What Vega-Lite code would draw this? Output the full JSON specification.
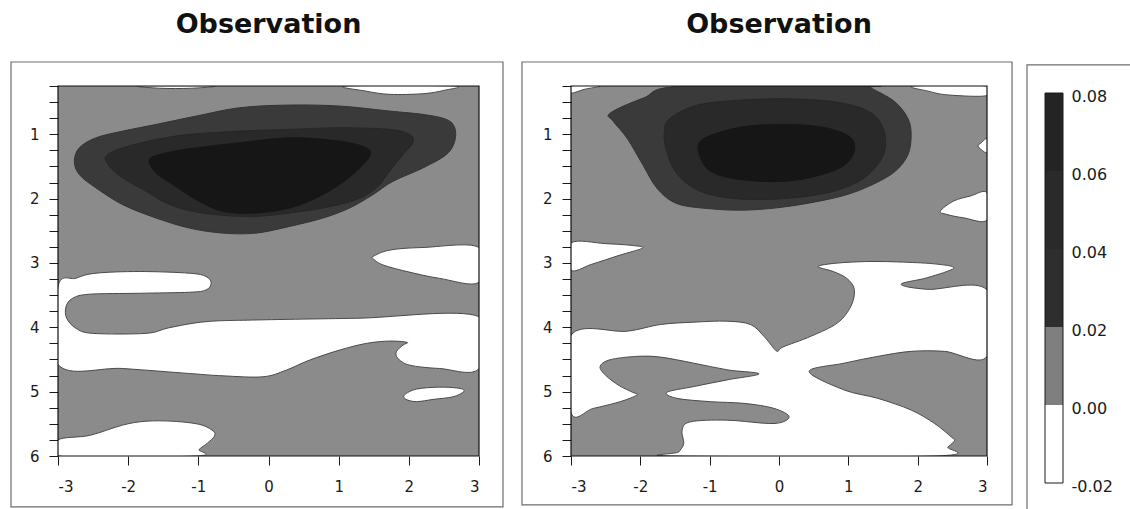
{
  "$schema": "https://vega.github.io/schema/vega-lite/v6.json",
  "background": "white",
  "padding": {"left": 10, "top": 11, "right": 0, "bottom": 0},
  "config": {
    "font": "DejaVu Sans",
    "view": {"stroke": null},
    "axis": {"labelFont": "DejaVu Sans", "labelFontSize": 15, "labelColor": "#1a1a1a", "tickColor": "#1a1a1a", "domainColor": "#1a1a1a", "grid": false, "labelOverlap": false},
    "title": {"font": "DejaVu Sans", "fontSize": 27, "fontWeight": "bold", "color": "#111111", "baseline": "alphabetic", "offset": 22, "frame": "group", "anchor": "middle"}
  },
  "datasets": {
    "p1": [
      {"s":"w1","l":"neg","x":-1.84,"y":0.25},{"s":"w1","l":"neg","x":-1.55,"y":0.285},{"s":"w1","l":"neg","x":-1.10,"y":0.285},{"s":"w1","l":"neg","x":-0.79,"y":0.25},
      {"s":"w2","l":"neg","x":1.11,"y":0.25},{"s":"w2","l":"neg","x":1.39,"y":0.33},{"s":"w2","l":"neg","x":1.73,"y":0.38},{"s":"w2","l":"neg","x":2.20,"y":0.37},{"s":"w2","l":"neg","x":2.49,"y":0.32},{"s":"w2","l":"neg","x":2.63,"y":0.25},
      {"s":"w3","l":"neg","x":1.49,"y":2.90},{"s":"w3","l":"neg","x":1.73,"y":2.80},{"s":"w3","l":"neg","x":2.20,"y":2.76},{"s":"w3","l":"neg","x":3,"y":2.76},{"s":"w3","l":"neg","x":3,"y":3.30},{"s":"w3","l":"neg","x":2.44,"y":3.24},{"s":"w3","l":"neg","x":1.96,"y":3.13},{"s":"w3","l":"neg","x":1.63,"y":3.03},{"s":"w3","l":"neg","x":1.51,"y":2.95},
      {"s":"w4","l":"neg","x":-3,"y":3.367},{"s":"w4","l":"neg","x":-2.743,"y":3.237},{"s":"w4","l":"neg","x":-2.458,"y":3.159},{"s":"w4","l":"neg","x":-1.84,"y":3.133},{"s":"w4","l":"neg","x":-1.127,"y":3.159},{"s":"w4","l":"neg","x":-0.889,"y":3.211},{"s":"w4","l":"neg","x":-0.817,"y":3.315},{"s":"w4","l":"neg","x":-0.889,"y":3.419},{"s":"w4","l":"neg","x":-1.127,"y":3.455},{"s":"w4","l":"neg","x":-1.84,"y":3.471},{"s":"w4","l":"neg","x":-2.553,"y":3.486},{"s":"w4","l":"neg","x":-2.791,"y":3.549},{"s":"w4","l":"neg","x":-2.886,"y":3.679},{"s":"w4","l":"neg","x":-2.876,"y":3.86},{"s":"w4","l":"neg","x":-2.743,"y":4.016},{"s":"w4","l":"neg","x":-2.505,"y":4.094},{"s":"w4","l":"neg","x":-1.745,"y":4.094},{"s":"w4","l":"neg","x":-1.412,"y":4.006},{"s":"w4","l":"neg","x":-0.889,"y":3.912},{"s":"w4","l":"neg","x":-0.175,"y":3.886},{"s":"w4","l":"neg","x":1.251,"y":3.86},{"s":"w4","l":"neg","x":3,"y":3.834},{"s":"w4","l":"neg","x":3,"y":4.64},{"s":"w4","l":"neg","x":2.44,"y":4.64},{"s":"w4","l":"neg","x":2.012,"y":4.588},{"s":"w4","l":"neg","x":1.846,"y":4.484},{"s":"w4","l":"neg","x":1.822,"y":4.38},{"s":"w4","l":"neg","x":1.917,"y":4.276},{"s":"w4","l":"neg","x":1.974,"y":4.234},{"s":"w4","l":"neg","x":1.727,"y":4.214},{"s":"w4","l":"neg","x":1.394,"y":4.25},{"s":"w4","l":"neg","x":1.013,"y":4.354},{"s":"w4","l":"neg","x":0.585,"y":4.51},{"s":"w4","l":"neg","x":0.252,"y":4.666},{"s":"w4","l":"neg","x":-0.08,"y":4.769},{"s":"w4","l":"neg","x":-0.651,"y":4.754},{"s":"w4","l":"neg","x":-1.127,"y":4.718},{"s":"w4","l":"neg","x":-2.077,"y":4.64},{"s":"w4","l":"neg","x":-3,"y":4.577},
      {"s":"w5","l":"neg","x":1.94,"y":5.05},{"s":"w5","l":"neg","x":2.11,"y":4.96},{"s":"w5","l":"neg","x":2.44,"y":4.93},{"s":"w5","l":"neg","x":2.73,"y":4.95},{"s":"w5","l":"neg","x":2.78,"y":5.0},{"s":"w5","l":"neg","x":2.63,"y":5.08},{"s":"w5","l":"neg","x":2.35,"y":5.12},{"s":"w5","l":"neg","x":2.11,"y":5.155},{"s":"w5","l":"neg","x":1.96,"y":5.12},
      {"s":"w6","l":"neg","x":-3,"y":5.75},{"s":"w6","l":"neg","x":-2.55,"y":5.68},{"s":"w6","l":"neg","x":-2.08,"y":5.52},{"s":"w6","l":"neg","x":-1.75,"y":5.46},{"s":"w6","l":"neg","x":-1.36,"y":5.46},{"s":"w6","l":"neg","x":-0.98,"y":5.51},{"s":"w6","l":"neg","x":-0.79,"y":5.61},{"s":"w6","l":"neg","x":-0.77,"y":5.69},{"s":"w6","l":"neg","x":-0.87,"y":5.8},{"s":"w6","l":"neg","x":-0.99,"y":5.9},{"s":"w6","l":"neg","x":-1.04,"y":6.0},{"s":"w6","l":"neg","x":-3,"y":6.0},
      {"s":"d1","l":"l1","x":-2.767,"y":1.419},{"s":"d1","l":"l1","x":-2.696,"y":1.211},{"s":"d1","l":"l1","x":-2.458,"y":1.055},{"s":"d1","l":"l1","x":-2.077,"y":0.951},{"s":"d1","l":"l1","x":-1.602,"y":0.847},{"s":"d1","l":"l1","x":-1.031,"y":0.718},{"s":"d1","l":"l1","x":-0.413,"y":0.588},{"s":"d1","l":"l1","x":0.3,"y":0.546},{"s":"d1","l":"l1","x":1.013,"y":0.562},{"s":"d1","l":"l1","x":1.727,"y":0.64},{"s":"d1","l":"l1","x":2.202,"y":0.692},{"s":"d1","l":"l1","x":2.535,"y":0.769},{"s":"d1","l":"l1","x":2.654,"y":0.899},{"s":"d1","l":"l1","x":2.654,"y":1.107},{"s":"d1","l":"l1","x":2.535,"y":1.315},{"s":"d1","l":"l1","x":2.202,"y":1.523},{"s":"d1","l":"l1","x":1.774,"y":1.731},{"s":"d1","l":"l1","x":1.489,"y":1.938},{"s":"d1","l":"l1","x":1.156,"y":2.146},{"s":"d1","l":"l1","x":0.776,"y":2.302},{"s":"d1","l":"l1","x":0.3,"y":2.432},{"s":"d1","l":"l1","x":-0.175,"y":2.536},{"s":"d1","l":"l1","x":-0.651,"y":2.536},{"s":"d1","l":"l1","x":-1.127,"y":2.458},{"s":"d1","l":"l1","x":-1.602,"y":2.302},{"s":"d1","l":"l1","x":-2.077,"y":2.094},{"s":"d1","l":"l1","x":-2.458,"y":1.834},{"s":"d1","l":"l1","x":-2.696,"y":1.627},
      {"s":"d2","l":"l2","x":-2.315,"y":1.341},{"s":"d2","l":"l2","x":-2.077,"y":1.211},{"s":"d2","l":"l2","x":-1.602,"y":1.081},{"s":"d2","l":"l2","x":-1.127,"y":1.003},{"s":"d2","l":"l2","x":-0.413,"y":0.951},{"s":"d2","l":"l2","x":0.3,"y":0.925},{"s":"d2","l":"l2","x":1.013,"y":0.899},{"s":"d2","l":"l2","x":1.727,"y":0.925},{"s":"d2","l":"l2","x":2.012,"y":1.003},{"s":"d2","l":"l2","x":2.059,"y":1.133},{"s":"d2","l":"l2","x":1.917,"y":1.315},{"s":"d2","l":"l2","x":1.727,"y":1.575},{"s":"d2","l":"l2","x":1.536,"y":1.834},{"s":"d2","l":"l2","x":1.251,"y":2.016},{"s":"d2","l":"l2","x":0.776,"y":2.146},{"s":"d2","l":"l2","x":0.3,"y":2.224},{"s":"d2","l":"l2","x":-0.175,"y":2.276},{"s":"d2","l":"l2","x":-0.651,"y":2.26},{"s":"d2","l":"l2","x":-1.127,"y":2.188},{"s":"d2","l":"l2","x":-1.459,"y":2.068},{"s":"d2","l":"l2","x":-1.745,"y":1.886},{"s":"d2","l":"l2","x":-2.077,"y":1.679},{"s":"d2","l":"l2","x":-2.268,"y":1.497},
      {"s":"d3","l":"l3","x":-1.697,"y":1.393},{"s":"d3","l":"l3","x":-1.459,"y":1.289},{"s":"d3","l":"l3","x":-1.031,"y":1.211},{"s":"d3","l":"l3","x":-0.413,"y":1.133},{"s":"d3","l":"l3","x":0.3,"y":1.055},{"s":"d3","l":"l3","x":1.013,"y":1.107},{"s":"d3","l":"l3","x":1.394,"y":1.211},{"s":"d3","l":"l3","x":1.441,"y":1.341},{"s":"d3","l":"l3","x":1.251,"y":1.575},{"s":"d3","l":"l3","x":1.013,"y":1.782},{"s":"d3","l":"l3","x":0.68,"y":1.99},{"s":"d3","l":"l3","x":0.3,"y":2.146},{"s":"d3","l":"l3","x":-0.175,"y":2.224},{"s":"d3","l":"l3","x":-0.651,"y":2.198},{"s":"d3","l":"l3","x":-1.031,"y":2.016},{"s":"d3","l":"l3","x":-1.364,"y":1.782},{"s":"d3","l":"l3","x":-1.602,"y":1.601}
    ],
    "p2": [
      {"s":"w1","l":"neg","x":-3,"y":0.25},{"s":"w1","l":"neg","x":-2.58,"y":0.25},{"s":"w1","l":"neg","x":-2.8,"y":0.3},{"s":"w1","l":"neg","x":-3,"y":0.36},
      {"s":"w2","l":"neg","x":1.94,"y":0.25},{"s":"w2","l":"neg","x":2.15,"y":0.33},{"s":"w2","l":"neg","x":2.45,"y":0.39},{"s":"w2","l":"neg","x":3,"y":0.4},{"s":"w2","l":"neg","x":3,"y":0.25},
      {"s":"w3","l":"neg","x":3,"y":1.07},{"s":"w3","l":"neg","x":2.92,"y":1.13},{"s":"w3","l":"neg","x":2.87,"y":1.18},{"s":"w3","l":"neg","x":2.92,"y":1.24},{"s":"w3","l":"neg","x":3,"y":1.28},
      {"s":"w4","l":"neg","x":2.326,"y":2.195},{"s":"w4","l":"neg","x":2.519,"y":2.038},{"s":"w4","l":"neg","x":2.76,"y":1.96},{"s":"w4","l":"neg","x":3,"y":1.908},{"s":"w4","l":"neg","x":3,"y":2.335},{"s":"w4","l":"neg","x":2.663,"y":2.299},{"s":"w4","l":"neg","x":2.422,"y":2.247},
      {"s":"w5","l":"neg","x":-3,"y":2.69},{"s":"w5","l":"neg","x":-2.5,"y":2.7},{"s":"w5","l":"neg","x":-2.1,"y":2.73},{"s":"w5","l":"neg","x":-1.97,"y":2.77},{"s":"w5","l":"neg","x":-2.3,"y":2.88},{"s":"w5","l":"neg","x":-2.7,"y":3.02},{"s":"w5","l":"neg","x":-3,"y":3.11},
      {"s":"w6","l":"neg","x":-3,"y":4.124},{"s":"w6","l":"neg","x":-2.194,"y":4.061},{"s":"w6","l":"neg","x":-1.712,"y":3.957},{"s":"w6","l":"neg","x":-1.23,"y":3.92},{"s":"w6","l":"neg","x":-0.747,"y":3.905},{"s":"w6","l":"neg","x":-0.41,"y":3.957},{"s":"w6","l":"neg","x":-0.217,"y":4.14},{"s":"w6","l":"neg","x":-0.11,"y":4.28},{"s":"w6","l":"neg","x":-0.024,"y":4.374},{"s":"w6","l":"neg","x":0.058,"y":4.306},{"s":"w6","l":"neg","x":0.459,"y":4.14},{"s":"w6","l":"neg","x":0.845,"y":3.931},{"s":"w6","l":"neg","x":1.038,"y":3.67},{"s":"w6","l":"neg","x":1.086,"y":3.41},{"s":"w6","l":"neg","x":0.975,"y":3.237},{"s":"w6","l":"neg","x":0.782,"y":3.133},{"s":"w6","l":"neg","x":0.565,"y":3.055},{"s":"w6","l":"neg","x":0.83,"y":3.003},{"s":"w6","l":"neg","x":1.313,"y":2.977},{"s":"w6","l":"neg","x":1.795,"y":2.987},{"s":"w6","l":"neg","x":2.277,"y":3.018},{"s":"w6","l":"neg","x":2.519,"y":3.081},{"s":"w6","l":"neg","x":2.147,"y":3.227},{"s":"w6","l":"neg","x":1.761,"y":3.331},{"s":"w6","l":"neg","x":2.147,"y":3.41},{"s":"w6","l":"neg","x":3,"y":3.42},{"s":"w6","l":"neg","x":3,"y":4.452},{"s":"w6","l":"neg","x":2.388,"y":4.374},{"s":"w6","l":"neg","x":1.906,"y":4.374},{"s":"w6","l":"neg","x":1.424,"y":4.452},{"s":"w6","l":"neg","x":0.941,"y":4.557},{"s":"w6","l":"neg","x":0.435,"y":4.687},{"s":"w6","l":"neg","x":0.941,"y":4.974},{"s":"w6","l":"neg","x":1.424,"y":5.104},{"s":"w6","l":"neg","x":1.906,"y":5.286},{"s":"w6","l":"neg","x":2.244,"y":5.495},{"s":"w6","l":"neg","x":2.485,"y":5.704},{"s":"w6","l":"neg","x":2.533,"y":5.756},{"s":"w6","l":"neg","x":2.437,"y":5.86},{"s":"w6","l":"neg","x":2.244,"y":6.0},{"s":"w6","l":"neg","x":-1.495,"y":6.0},{"s":"w6","l":"neg","x":-1.447,"y":5.938},{"s":"w6","l":"neg","x":-1.374,"y":5.808},{"s":"w6","l":"neg","x":-1.398,"y":5.599},{"s":"w6","l":"neg","x":-1.278,"y":5.469},{"s":"w6","l":"neg","x":-0.747,"y":5.443},{"s":"w6","l":"neg","x":-0.072,"y":5.495},{"s":"w6","l":"neg","x":0.145,"y":5.391},{"s":"w6","l":"neg","x":-0.072,"y":5.26},{"s":"w6","l":"neg","x":-0.506,"y":5.182},{"s":"w6","l":"neg","x":-0.988,"y":5.156},{"s":"w6","l":"neg","x":-1.471,"y":5.104},{"s":"w6","l":"neg","x":-1.616,"y":5.01},{"s":"w6","l":"neg","x":-1.23,"y":4.921},{"s":"w6","l":"neg","x":-0.747,"y":4.817},{"s":"w6","l":"neg","x":-0.289,"y":4.723},{"s":"w6","l":"neg","x":-0.747,"y":4.661},{"s":"w6","l":"neg","x":-1.23,"y":4.557},{"s":"w6","l":"neg","x":-1.712,"y":4.463},{"s":"w6","l":"neg","x":-2.05,"y":4.452},{"s":"w6","l":"neg","x":-2.436,"y":4.504},{"s":"w6","l":"neg","x":-2.58,"y":4.609},{"s":"w6","l":"neg","x":-2.498,"y":4.749},{"s":"w6","l":"neg","x":-2.305,"y":4.906},{"s":"w6","l":"neg","x":-2.112,"y":5.01},{"s":"w6","l":"neg","x":-2.05,"y":5.052},{"s":"w6","l":"neg","x":-2.291,"y":5.156},{"s":"w6","l":"neg","x":-2.677,"y":5.26},{"s":"w6","l":"neg","x":-3,"y":5.323},
      {"s":"d1","l":"l1","x":-1.374,"y":0.25},{"s":"d1","l":"l1","x":-1.958,"y":0.438},{"s":"d1","l":"l1","x":-2.436,"y":0.672},{"s":"d1","l":"l1","x":-2.392,"y":0.797},{"s":"d1","l":"l1","x":-2.19,"y":1.063},{"s":"d1","l":"l1","x":-1.958,"y":1.486},{"s":"d1","l":"l1","x":-1.755,"y":1.845},{"s":"d1","l":"l1","x":-1.466,"y":2.08},{"s":"d1","l":"l1","x":-0.988,"y":2.158},{"s":"d1","l":"l1","x":-0.52,"y":2.179},{"s":"d1","l":"l1","x":-0.024,"y":2.143},{"s":"d1","l":"l1","x":0.459,"y":2.064},{"s":"d1","l":"l1","x":0.941,"y":1.95},{"s":"d1","l":"l1","x":1.327,"y":1.793},{"s":"d1","l":"l1","x":1.665,"y":1.585},{"s":"d1","l":"l1","x":1.858,"y":1.324},{"s":"d1","l":"l1","x":1.906,"y":1.011},{"s":"d1","l":"l1","x":1.858,"y":0.751},{"s":"d1","l":"l1","x":1.665,"y":0.49},{"s":"d1","l":"l1","x":1.327,"y":0.281},{"s":"d1","l":"l1","x":1.279,"y":0.25},
      {"s":"d2","l":"l2","x":-1.582,"y":0.761},{"s":"d2","l":"l2","x":-1.196,"y":0.552},{"s":"d2","l":"l2","x":-0.617,"y":0.474},{"s":"d2","l":"l2","x":0.107,"y":0.448},{"s":"d2","l":"l2","x":0.83,"y":0.5},{"s":"d2","l":"l2","x":1.313,"y":0.657},{"s":"d2","l":"l2","x":1.506,"y":0.917},{"s":"d2","l":"l2","x":1.53,"y":1.23},{"s":"d2","l":"l2","x":1.409,"y":1.491},{"s":"d2","l":"l2","x":1.12,"y":1.752},{"s":"d2","l":"l2","x":0.589,"y":1.934},{"s":"d2","l":"l2","x":-0.135,"y":2.012},{"s":"d2","l":"l2","x":-0.762,"y":1.986},{"s":"d2","l":"l2","x":-1.196,"y":1.856},{"s":"d2","l":"l2","x":-1.485,"y":1.595},{"s":"d2","l":"l2","x":-1.63,"y":1.23},{"s":"d2","l":"l2","x":-1.654,"y":0.97},
      {"s":"d3","l":"l3","x":-1.148,"y":1.126},{"s":"d3","l":"l3","x":-0.858,"y":0.97},{"s":"d3","l":"l3","x":-0.376,"y":0.865},{"s":"d3","l":"l3","x":0.348,"y":0.855},{"s":"d3","l":"l3","x":0.83,"y":0.943},{"s":"d3","l":"l3","x":1.071,"y":1.1},{"s":"d3","l":"l3","x":1.047,"y":1.361},{"s":"d3","l":"l3","x":0.782,"y":1.569},{"s":"d3","l":"l3","x":0.155,"y":1.725},{"s":"d3","l":"l3","x":-0.52,"y":1.71},{"s":"d3","l":"l3","x":-0.955,"y":1.595},{"s":"d3","l":"l3","x":-1.123,"y":1.387}
    ],
    "bar": [
      {"level":"neg","lo":-0.02,"hi":0.0},
      {"level":"l0","lo":0.0,"hi":0.02},
      {"level":"l1","lo":0.02,"hi":0.04},
      {"level":"l2","lo":0.04,"hi":0.06},
      {"level":"l3","lo":0.06,"hi":0.08}
    ]
  },
  "spacing": 13,
  "hconcat": [
    {
      "spacing": 17,
      "hconcat": [
        {
          "width": 421, "height": 370,
          "title": {"text": "Observation"},
          "data": {"name": "p1"},
          "view": {"fill": "#8b8b8b", "stroke": null},
          "layer": [
            {"data": {"values": [{}]}, "mark": {"type": "rect", "fill": null, "stroke": "#6e6e6e", "strokeWidth": 1.2, "clip": false},
             "encoding": {"x": {"datum": -3.67, "type": "quantitative", "scale": {"domain": [-3, 3], "nice": false, "zero": false}}, "x2": {"datum": 3.342}, "y": {"datum": -0.123, "type": "quantitative", "scale": {"domain": [0.25, 6], "reverse": true, "nice": false, "zero": false}}, "y2": {"datum": 6.79}}},
            {"transform": [{"filter": "datum.l === 'neg'"}], "mark": {"type": "line", "interpolate": "cardinal-closed", "tension": 0, "fill": "#ffffff", "stroke": "#4a4a4a", "strokeWidth": 1, "clip": true},
             "encoding": {
               "x": {"field": "x", "type": "quantitative", "scale": {"domain": [-3, 3], "nice": false, "zero": false},
                     "axis": {"title": null, "values": [-3, -2, -1, 0, 1, 2, 3], "tickCount": 20, "tickSize": 9, "labelPadding": 14, "domain": false, "labelExpr": "replace(format(datum.value, 'd'), '\u2212', '-')"}},
               "y": {"field": "y", "type": "quantitative", "scale": {"domain": [0.25, 6], "reverse": true, "nice": false, "zero": false},
                     "axis": {"title": null, "values": [0.25,0.5,0.75,1,1.25,1.5,1.75,2,2.25,2.5,2.75,3,3.25,3.5,3.75,4,4.25,4.5,4.75,5,5.25,5.5,5.75,6], "tickCount": 40, "tickSize": 9, "labelPadding": 10, "domain": false, "labelExpr": "datum.value % 1 === 0 ? format(datum.value, 'd') : ''"}},
               "detail": {"field": "s"}, "order": {"value": null}}},
            {"transform": [{"filter": "datum.l === 'l1'"}], "mark": {"type": "line", "interpolate": "cardinal-closed", "tension": 0, "fill": "#3a3a3a", "stroke": "#333333", "strokeWidth": 1, "clip": true},
             "encoding": {"x": {"field": "x", "type": "quantitative"}, "y": {"field": "y", "type": "quantitative"}, "detail": {"field": "s"}, "order": {"value": null}}},
            {"transform": [{"filter": "datum.l === 'l2'"}], "mark": {"type": "line", "interpolate": "cardinal-closed", "tension": 0, "fill": "#292929", "stroke": "#262626", "strokeWidth": 1, "clip": true},
             "encoding": {"x": {"field": "x", "type": "quantitative"}, "y": {"field": "y", "type": "quantitative"}, "detail": {"field": "s"}, "order": {"value": null}}},
            {"transform": [{"filter": "datum.l === 'l3'"}], "mark": {"type": "line", "interpolate": "cardinal-closed", "tension": 0, "fill": "#161616", "stroke": "#161616", "strokeWidth": 1, "clip": true},
             "encoding": {"x": {"field": "x", "type": "quantitative"}, "y": {"field": "y", "type": "quantitative"}, "detail": {"field": "s"}, "order": {"value": null}}},
            {"data": {"values": [{}]}, "mark": {"type": "rect", "fill": null, "stroke": "#111111", "strokeWidth": 1.2},
             "encoding": {"x": {"datum": -3, "type": "quantitative"}, "x2": {"datum": 3}, "y": {"datum": 0.25, "type": "quantitative"}, "y2": {"datum": 6}}}
          ]
        },
        {
          "width": 416, "height": 370,
          "title": {"text": "Observation"},
          "data": {"name": "p2"},
          "view": {"fill": "#8b8b8b", "stroke": null},
          "layer": [
            {"data": {"values": [{}]}, "mark": {"type": "rect", "fill": null, "stroke": "#6e6e6e", "strokeWidth": 1.2, "clip": false},
             "encoding": {"x": {"datum": -3.707, "type": "quantitative", "scale": {"domain": [-3, 3], "nice": false, "zero": false}}, "x2": {"datum": 3.361}, "y": {"datum": -0.123, "type": "quantitative", "scale": {"domain": [0.25, 6], "reverse": true, "nice": false, "zero": false}}, "y2": {"datum": 6.76}}},
            {"transform": [{"filter": "datum.l === 'neg'"}], "mark": {"type": "line", "interpolate": "cardinal-closed", "tension": 0, "fill": "#ffffff", "stroke": "#4a4a4a", "strokeWidth": 1, "clip": true},
             "encoding": {
               "x": {"field": "x", "type": "quantitative", "scale": {"domain": [-3, 3], "nice": false, "zero": false},
                     "axis": {"title": null, "values": [-3, -2, -1, 0, 1, 2, 3], "tickCount": 20, "tickSize": 9, "labelPadding": 14, "domain": false, "labelExpr": "replace(format(datum.value, 'd'), '\u2212', '-')"}},
               "y": {"field": "y", "type": "quantitative", "scale": {"domain": [0.25, 6], "reverse": true, "nice": false, "zero": false},
                     "axis": {"title": null, "values": [0.25,0.5,0.75,1,1.25,1.5,1.75,2,2.25,2.5,2.75,3,3.25,3.5,3.75,4,4.25,4.5,4.75,5,5.25,5.5,5.75,6], "tickCount": 40, "tickSize": 9, "labelPadding": 10, "domain": false, "labelExpr": "datum.value % 1 === 0 ? format(datum.value, 'd') : ''"}},
               "detail": {"field": "s"}, "order": {"value": null}}},
            {"transform": [{"filter": "datum.l === 'l1'"}], "mark": {"type": "line", "interpolate": "cardinal-closed", "tension": 0, "fill": "#3a3a3a", "stroke": "#333333", "strokeWidth": 1, "clip": true},
             "encoding": {"x": {"field": "x", "type": "quantitative"}, "y": {"field": "y", "type": "quantitative"}, "detail": {"field": "s"}, "order": {"value": null}}},
            {"transform": [{"filter": "datum.l === 'l2'"}], "mark": {"type": "line", "interpolate": "cardinal-closed", "tension": 0, "fill": "#292929", "stroke": "#262626", "strokeWidth": 1, "clip": true},
             "encoding": {"x": {"field": "x", "type": "quantitative"}, "y": {"field": "y", "type": "quantitative"}, "detail": {"field": "s"}, "order": {"value": null}}},
            {"transform": [{"filter": "datum.l === 'l3'"}], "mark": {"type": "line", "interpolate": "cardinal-closed", "tension": 0, "fill": "#161616", "stroke": "#161616", "strokeWidth": 1, "clip": true},
             "encoding": {"x": {"field": "x", "type": "quantitative"}, "y": {"field": "y", "type": "quantitative"}, "detail": {"field": "s"}, "order": {"value": null}}},
            {"data": {"values": [{}]}, "mark": {"type": "rect", "fill": null, "stroke": "#111111", "strokeWidth": 1.2},
             "encoding": {"x": {"datum": -3, "type": "quantitative"}, "x2": {"datum": 3}, "y": {"datum": 0.25, "type": "quantitative"}, "y2": {"datum": 6}}}
          ]
        }
      ]
    },
    {
      "width": 18, "height": 397,
      "data": {"name": "bar"},
      "layer": [
        {"data": {"values": [{}]}, "mark": {"type": "rect", "fill": null, "stroke": "#6e6e6e", "strokeWidth": 1.2, "clip": false},
         "encoding": {"x": {"datum": -1, "type": "quantitative", "scale": {"domain": [0, 1], "nice": false, "zero": false}, "axis": null}, "x2": {"datum": 7}, "y": {"datum": 0.0872, "type": "quantitative", "scale": {"domain": [-0.02, 0.0818], "nice": false, "zero": false}}, "y2": {"datum": -0.045}}},
        {"mark": {"type": "rect", "strokeWidth": 0},
         "encoding": {
           "x": {"datum": 0, "type": "quantitative", "axis": null}, "x2": {"datum": 1},
           "y": {"field": "lo", "type": "quantitative", "scale": {"domain": [-0.02, 0.0818], "nice": false, "zero": false},
                 "axis": {"title": null, "orient": "right", "values": [-0.02, 0, 0.02, 0.04, 0.06, 0.08], "ticks": false, "domain": false, "labelPadding": 8, "labelOffset": 3, "labelFontSize": 16, "labelExpr": "replace(format(datum.value, '.2f'), '\u2212', '-')"}},
           "y2": {"field": "hi"},
           "fill": {"field": "level", "type": "nominal", "legend": null,
                    "scale": {"domain": ["neg", "l0", "l1", "l2", "l3"], "range": ["#ffffff", "#7f7f7f", "#2e2e2e", "#2a2a2a", "#242424"]}}
         }},
        {"data": {"values": [{}]}, "mark": {"type": "rect", "fill": null, "stroke": "#1a1a1a", "strokeWidth": 1},
         "encoding": {"x": {"datum": 0, "type": "quantitative", "axis": null}, "x2": {"datum": 1}, "y": {"datum": -0.02, "type": "quantitative"}, "y2": {"datum": 0.08}}}
      ]
    }
  ]
}
